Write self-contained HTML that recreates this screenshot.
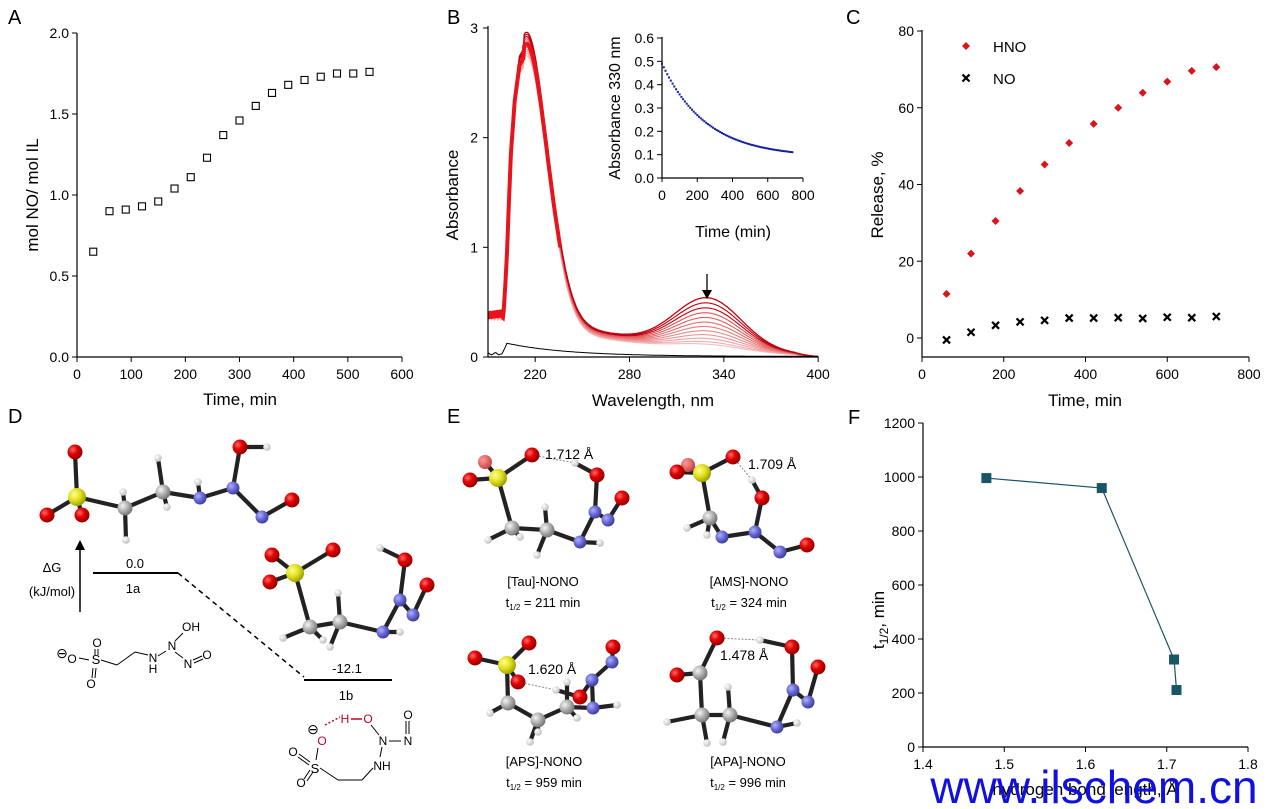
<!DOCTYPE html>
<html><head><meta charset="utf-8">
<style>
html,body{margin:0;padding:0;background:#fff;}
svg{display:block;font-family:"Liberation Sans",Arial,sans-serif;}
</style></head>
<body>
<svg id="s" width="1269" height="809" viewBox="0 0 1269 809" xmlns="http://www.w3.org/2000/svg">
<defs>
<radialGradient id="gO" cx="35%" cy="35%" r="70%"><stop offset="0" stop-color="#ff6a6a"/><stop offset="0.45" stop-color="#e00000"/><stop offset="1" stop-color="#900000"/></radialGradient>
<radialGradient id="gOl" cx="35%" cy="35%" r="70%"><stop offset="0" stop-color="#ff9a9a"/><stop offset="1" stop-color="#c84040"/></radialGradient>
<radialGradient id="gS" cx="35%" cy="35%" r="70%"><stop offset="0" stop-color="#ffff90"/><stop offset="0.5" stop-color="#e0e020"/><stop offset="1" stop-color="#9a9a00"/></radialGradient>
<radialGradient id="gC" cx="35%" cy="35%" r="70%"><stop offset="0" stop-color="#f4f4f4"/><stop offset="0.5" stop-color="#b0b0b0"/><stop offset="1" stop-color="#707070"/></radialGradient>
<radialGradient id="gN" cx="35%" cy="35%" r="70%"><stop offset="0" stop-color="#b0b0ff"/><stop offset="0.5" stop-color="#6a6ad8"/><stop offset="1" stop-color="#3a3a90"/></radialGradient>
<radialGradient id="gH" cx="35%" cy="35%" r="70%"><stop offset="0" stop-color="#ffffff"/><stop offset="1" stop-color="#bbbbbb"/></radialGradient>
</defs>
<g id="root"></g>
</svg>
<script>
var R=document.getElementById('root'),out=[];
function P(s){out.push(s);}
function T(x,y,t,sz,anc,extra){P('<text x="'+x+'" y="'+y+'" font-size="'+sz+'" text-anchor="'+(anc||'middle')+'" '+(extra||'')+'>'+t+'</text>');}
function L(x1,y1,x2,y2,w,c,extra){P('<line x1="'+x1+'" y1="'+y1+'" x2="'+x2+'" y2="'+y2+'" stroke="'+(c||'#000')+'" stroke-width="'+(w||1)+'" '+(extra||'')+'/>');}
// ---------- Panel A ----------
T(8,24,'A',20,'start');
(function(){
 var x0=77,y0=357,sx=325/600,sy=162;
 L(x0,33,x0,y0,1.2);L(x0,y0,402,y0,1.2);
 [0,0.5,1,1.5,2].forEach(function(v){var y=y0-v*sy;L(x0-5,y,x0,y,1);T(x0-8,y+5,v.toFixed(1),14,'end');});
 for(var v=0;v<=600;v+=100){var x=x0+v*sx;L(x,y0,x,y0+5,1);T(x,y0+22,v,14);}
 T(240,405,'Time, min',17);
 T(0,0,'mol NO/ mol IL',17,'middle','transform="translate(38,195) rotate(-90)"');
 var d=[0.65,0.90,0.91,0.93,0.96,1.04,1.11,1.23,1.37,1.46,1.55,1.63,1.68,1.71,1.73,1.75,1.75,1.76];
 d.forEach(function(v,i){var x=x0+(30+30*i)*sx,y=y0-v*sy;P('<rect x="'+(x-3.5)+'" y="'+(y-3.5)+'" width="7" height="7" fill="none" stroke="#000" stroke-width="1.1"/>');});
})();
// ---------- Panel B ----------
T(447,24,'B',20,'start');
(function(){
 var x0=488,y0=357;function X(n){return x0+(n-190)*1.5722;}function Y(a){return y0-a*109.67;}
 var lp=[[200,0.45],[201,0.7],[202,1.0],[204.6,2.0],[207,2.5],[210,2.85],[213,2.93]];
 function left(n,pk){for(var i=1;i<lp.length;i++){if(n<=lp[i][0]){var a=lp[i-1],b=lp[i],t=(n-a[0])/(b[0]-a[0]);return (a[1]+t*(b[1]-a[1]))*pk/2.93;}}return pk;}
 function spec(n,f,h){
  var base=0.40-0.05*f,pk=2.82-0.17*f,a;
  if(n<200)a=base+0.015*Math.sin(n*3+f*7);
  else if(n<213)a=Math.max(base,left(n,pk));
  else{a=pk*Math.exp(-Math.pow((n-213)/20,2))+(0.22-0.05*f)*Math.exp(-Math.max(0,n-235)/60)*(1-Math.exp(-(n-213)/8))+0.12*(400-n)/187*(1-0.3*f)+h*Math.exp(-Math.pow((n-330)/30,2));
   if(n>385)a*=0.3+0.7*(400-n)/15;}
  return a;}
 var N=12;
 for(var k=N-1;k>=0;k--){
  var f=k/(N-1);
  var h=0.40*Math.pow(1-f,1.25)+0.05;
  var d='';
  for(var n=190;n<=400;n+=0.5){d+=(n==190?'M':'L')+X(n).toFixed(1)+' '+Y(spec(n,f,h)).toFixed(1);}
  var col=k<3?'#c00010':'rgb('+(215+Math.round(30*f))+','+Math.round(40+150*f)+','+Math.round(40+150*f)+')';
  P('<path d="'+d+'" fill="none" stroke="'+col+'" stroke-width="'+(k==0?1.3:1.1)+'"/>');
 }
 var d2='';for(var n=199;n<=236;n+=0.5){d2+=(n==199?'M':'L')+X(n).toFixed(1)+' '+Y(spec(n,0.5,0.2)).toFixed(1);}
 P('<path d="'+d2+'" fill="none" stroke="#e8141c" stroke-width="4"/>');
 P('<path d="M'+X(190)+' '+Y(0.38)+'L'+X(200)+' '+Y(0.40)+'" stroke="#e8141c" stroke-width="8" fill="none"/>');
 var db='';for(var n=190;n<=400;n+=1){var a=n<199?0.03+0.01*Math.sin(n*5):(n<202?0.03+(n-199)*0.03:0.12*Math.exp(-(n-202)/40)+0.005);db+=(n==190?'M':'L')+X(n).toFixed(1)+' '+Y(a).toFixed(1);}
 P('<path d="'+db+'" fill="none" stroke="#000" stroke-width="1"/>');
 L(x0,26,x0,y0,1.2);L(x0,y0,818,y0,1.2);
 [0,1,2,3].forEach(function(v){var y=Y(v);L(x0-5,y,x0,y,1);T(x0-10,y+5,v,14,'end');});
 [220,280,340,400].forEach(function(v){var x=X(v);L(x,y0,x,y0+5,1);T(x,y0+22,v,14);});
 T(653,406,'Wavelength, nm',17);
 T(0,0,'Absorbance',17,'middle','transform="translate(458,195) rotate(-90)"');
 L(707,274,707,292,1.3);P('<polygon points="702,290 712,290 707,299" fill="#000"/>');
 var ix=662,iy=178,isx=141/800,isy=140/0.6;
 L(ix,37,ix,iy,1.2);L(ix,iy,803,iy,1.2);
 for(var v=0;v<=0.6001;v+=0.1){var y=iy-v*isy;L(ix-5,y,ix,y,1);T(ix-8,y+5,v.toFixed(1),14,'end');}
 [0,200,400,600,800].forEach(function(v){var x=ix+v*isx;L(x,iy,x,iy+4,1);T(x,iy+22,v,14);});
 T(733,237,'Time (min)',16);
 T(0,0,'Absorbance 330 nm',16,'middle','transform="translate(620,108) rotate(-90)"');
 for(var t=0;t<=740;t+=10){var a=0.09+0.40*Math.exp(-t/250);P('<rect x="'+(ix+t*isx-1).toFixed(1)+'" y="'+(iy-a*isy-1).toFixed(1)+'" width="2" height="2" fill="#10209a"/>');}
})();
// ---------- Panel C ----------
T(846,24,'C',20,'start');
(function(){
 var x0=922,y0=338,sx=327/800,sy=3.8375;
 L(x0,30,x0,357,1.2);L(x0,357,1249,357,1.2);
 [0,20,40,60,80].forEach(function(v){var y=y0-v*sy;L(x0-5,y,x0,y,1);T(x0-8,y+5,v,14,'end');});
 [0,200,400,600,800].forEach(function(v){var x=x0+v*sx;L(x,357,x,362,1);T(x,379,v,14);});
 T(1085,406,'Time, min',17);
 T(0,0,'Release, %',17,'middle','transform="translate(883,195) rotate(-90)"');
 var h=[11.5,22,30.5,38.3,45.2,50.8,55.8,60,63.9,66.8,69.6,70.6],n=[-0.5,1.5,3.3,4.2,4.6,5.2,5.2,5.3,5.1,5.4,5.3,5.6];
 function dia(x,y){P('<polygon points="'+x+','+(y-4)+' '+(x+4)+','+y+' '+x+','+(y+4)+' '+(x-4)+','+y+'" fill="#d8141c"/>');}
 function cr(x,y){L(x-3.5,y-3.5,x+3.5,y+3.5,2.2);L(x-3.5,y+3.5,x+3.5,y-3.5,2.2);}
 h.forEach(function(v,i){dia(x0+(60+60*i)*sx,y0-v*sy);});
 n.forEach(function(v,i){cr(x0+(60+60*i)*sx,y0-v*sy);});
 dia(966,46);T(993,52,'HNO',15,'start');cr(966,78);T(993,84,'NO',15,'start');
})();
// ---------- Panel F ----------
T(848,424,'F',20,'start');
(function(){
 var x0=923,y0=747,sx=812.5,sy=0.27;function X(v){return x0+(v-1.4)*sx;}
 L(x0,423,x0,y0,1.2);L(x0,y0,1248,y0,1.2);
 for(var v=0;v<=1200;v+=200){var y=y0-v*sy;L(x0-5,y,x0,y,1);T(x0-8,y+5,v,14,'end');}
 [1.4,1.5,1.6,1.7,1.8].forEach(function(v){var x=X(v);L(x,y0,x,y0+5,1);T(x,y0+22,v.toFixed(1),14);});
 T(1085,795,'hydrogen bond length, Å',17);
 P('<text transform="translate(884,620) rotate(-90)" font-size="17" text-anchor="middle">t<tspan font-size="12" dy="4">1/2</tspan><tspan dy="-4">, min</tspan></text>');
 var pts=[[1.478,996],[1.620,959],[1.709,324],[1.712,211]],d='';
 pts.forEach(function(p,i){d+=(i?'L':'M')+X(p[0])+' '+(y0-p[1]*sy);});
 P('<path d="'+d+'" fill="none" stroke="#1a5566" stroke-width="1.2"/>');
 pts.forEach(function(p){P('<rect x="'+(X(p[0])-5)+'" y="'+(y0-p[1]*sy-5)+'" width="10" height="10" fill="#1a5566"/>');});
 T(1094,803,'www.ilschem.cn',46,'middle','fill="#1010e0"');
})();
// ---------- Molecules ----------
var RAD={O:7.5,o:7,S:9,C:7.5,N:6.5,H:3.8},GR={O:'gO',o:'gOl',S:'gS',C:'gC',N:'gN',H:'gH'};
function mol(at,bd,hb){
 if(hb)hb.forEach(function(b){L(at[b[0]][1],at[b[0]][2],at[b[1]][1],at[b[1]][2],1,'#888','stroke-dasharray="2,1.5"');});
 bd.forEach(function(b){var a=at[b[0]],c=at[b[1]];L(a[1],a[2],c[1],c[2],4.2,'#222','stroke-linecap="round"');});
 at.forEach(function(a){P('<circle cx="'+a[1]+'" cy="'+a[2]+'" r="'+RAD[a[0]]+'" fill="url(#'+GR[a[0]]+')"/>');});
}
mol([['O',75,452],['S',77,497],['O',47,515],['O',82,515],['C',125,508],['H',126,540],['H',123,492],['C',163,492],['H',158,458],['H',167,507],['N',200,498],['H',198,482],['N',233,488],['O',240,447],['H',267,447],['N',262,517],['O',292,500]],
 [[0,1],[1,2],[1,3],[1,4],[4,5],[4,6],[4,7],[7,8],[7,9],[7,10],[10,11],[10,12],[12,13],[13,14],[12,15],[15,16]]);
mol([['O',272,555],['O',333,550],['S',295,573],['O',270,582],['H',380,548],['O',405,560],['O',427,585],['N',400,600],['N',413,615],['C',310,627],['C',340,622],['H',338,593],['H',283,638],['H',323,640],['H',330,647],['N',383,632],['H',400,632]],
 [[0,2],[1,2],[3,2],[2,9],[9,12],[9,13],[9,10],[10,11],[10,14],[10,15],[15,16],[15,7],[7,5],[5,4],[7,8],[8,6]]);
mol([['o',485,462],['O',470,480],['S',498,478],['O',532,455],['H',575,463],['O',597,475],['O',622,498],['N',595,512],['N',608,520],['C',512,528],['C',547,530],['H',545,507],['H',488,540],['H',520,537],['H',537,555],['N',580,542],['H',600,543]],
 [[0,2],[1,2],[3,2],[2,9],[9,12],[9,13],[9,10],[10,11],[10,14],[10,15],[15,16],[15,7],[7,5],[5,4],[7,8],[8,6]],[[3,4]]);
mol([['o',688,465],['O',677,472],['S',702,473],['O',733,457],['H',752,480],['O',762,498],['N',755,532],['N',780,552],['O',807,545],['C',710,518],['H',687,528],['H',707,535],['N',722,537]],
 [[0,2],[1,2],[3,2],[2,9],[9,10],[9,11],[9,12],[12,6],[6,5],[5,4],[6,7],[7,8]],[[3,4]]);
mol([['O',475,658],['O',529,643],['S',507,665],['O',518,682],['C',508,703],['C',538,720],['C',567,707],['H',490,713],['H',538,732],['H',530,742],['H',577,718],['H',556,690],['H',567,682],['O',580,697],['N',592,680],['N',612,662],['O',613,647],['N',593,708],['H',617,705]],
 [[0,2],[1,2],[3,2],[2,4],[4,7],[4,5],[5,8],[5,9],[5,6],[6,10],[6,12],[6,17],[17,18],[17,14],[14,13],[13,11],[14,15],[15,16]],[[3,11]]);
mol([['O',717,638],['H',760,640],['O',792,647],['O',818,667],['N',793,690],['N',808,702],['C',700,673],['O',677,675],['C',702,715],['C',730,715],['H',667,722],['H',707,743],['H',723,742],['H',728,687],['N',777,727],['H',797,723]],
 [[0,6],[7,6],[6,8],[8,10],[8,11],[8,9],[9,12],[9,13],[9,14],[14,15],[14,4],[4,2],[2,1],[4,5],[5,3]],[[0,1]]);
T(8,423,'D',20,'start');T(447,423,'E',20,'start');
T(545,459,'1.712 Å',14,'start');T(748,469,'1.709 Å',14,'start');T(528,674,'1.620 Å',14,'start');T(720,660,'1.478 Å',14,'start');
function tl(x,y,name,v){T(x,y,name,13);P('<text x="'+x+'" y="'+(y+21)+'" font-size="13" text-anchor="middle">t<tspan font-size="8" dy="3">1/2</tspan><tspan dy="-3"> = '+v+' min</tspan></text>');}
tl(543,586,'[Tau]-NONO',211);tl(749,586,'[AMS]-NONO',324);tl(544,766,'[APS]-NONO',959);tl(748,766,'[APA]-NONO',996);
L(80,612,80,548,1.5);P('<polygon points="75,550 85,550 80,540" fill="#000"/>');
T(52,572,'ΔG',13);T(52,596,'(kJ/mol)',13);
L(93,573,178,573,2);L(304,680,392,680,2);L(178,573,304,677,1.5,'#000','stroke-dasharray="5,4"');
T(135,568,'0.0',13);T(133,593,'1a',13);T(347,673,'-12.1',13);T(346,700,'1b',13);
P('<g font-size="12">');
T(62,658,'⊖',14);T(72,663,'O',12);L(79,658,89,660,1);T(96,664,'S',13);
T(97,647,'O',12);L(95,649,95,655,1);L(98,649,98,655,1);
T(91,688,'O',12);L(93,668,92,678,1);L(96,668,95,678,1);
L(101,660,117,665,1);L(117,665,135,652,1);L(135,652,148,655,1);
T(153,662,'N',12);T(153,673,'H',12);L(158,656,166,651,1);T(172,650,'N',12);T(191,631,'OH',12);L(175,641,183,633,1);
L(175,652,183,658,1);T(188,668,'N',12);T(207,659,'O',12);L(193,660,202,656,1);L(194,663,203,659,1);
T(313,734,'⊖',14);T(322,745,'O',12,'middle','fill="#c00020"');L(325,725,340,717,1.5,'#c00020','stroke-dasharray="2,2"');
T(345,723,'H',12,'middle','fill="#c00020"');L(351,719,362,719,1.5,'#c00020');T(368,723,'O',12,'middle','fill="#c00020"');
L(371,725,379,735,1);T(383,745,'N',12);L(389,741,401,741,1);T(408,745,'N',12);L(406,721,406,734,1);L(409,721,409,734,1);T(408,719,'O',12);
L(382,747,380,757,1);T(382,770,'NH',12);L(373,768,362,780,1);L(362,780,338,780,1);L(338,780,320,768,1);
T(315,773,'S',13);L(318,748,316,760,1);T(293,756,'O',12);L(299,754,310,762,1);L(298,757,309,765,1);T(301,787,'O',12);L(304,779,310,770,1);L(307,781,313,772,1);
P('</g>');
R.innerHTML=out.join('');
</script>
</body></html>
